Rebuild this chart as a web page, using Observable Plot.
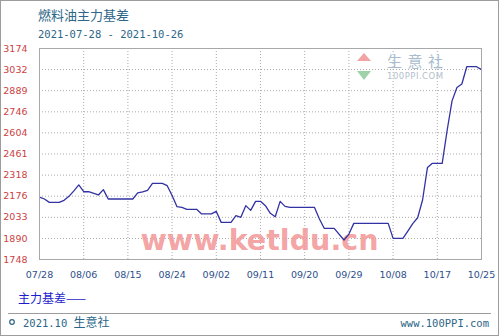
<!DOCTYPE html>
<html><head><meta charset="utf-8">
<script src="https://cdn.jsdelivr.net/npm/d3@7"></script>
<script src="https://cdn.jsdelivr.net/npm/@observablehq/plot@0.6"></script>
<style>
html,body{margin:0;padding:0;background:#fff;}
#chart{position:relative;width:499px;height:336px;}
#chart svg{display:block;}
</style></head><body><div id="chart"></div>
<script>
// ---- data ----
const dates = ["2021-07-28","2021-07-29","2021-07-30","2021-08-01","2021-08-02","2021-08-03","2021-08-04","2021-08-05","2021-08-06","2021-08-07","2021-08-09","2021-08-10","2021-08-11","2021-08-16","2021-08-17","2021-08-18","2021-08-19","2021-08-20","2021-08-22","2021-08-23","2021-08-24","2021-08-25","2021-08-26","2021-08-27","2021-08-29","2021-08-30","2021-09-01","2021-09-02","2021-09-03","2021-09-05","2021-09-06","2021-09-07","2021-09-08","2021-09-09","2021-09-10","2021-09-11","2021-09-12","2021-09-13","2021-09-14","2021-09-15","2021-09-16","2021-09-17","2021-09-22","2021-09-23","2021-09-24","2021-09-26","2021-09-28","2021-09-29","2021-09-30","2021-10-07","2021-10-08","2021-10-10","2021-10-11","2021-10-12","2021-10-13","2021-10-14","2021-10-15","2021-10-16","2021-10-18","2021-10-19","2021-10-20","2021-10-21","2021-10-22","2021-10-23","2021-10-25","2021-10-26"];
const values = [2170,2157,2134,2134,2148,2175,2212,2252,2206,2206,2184,2220,2157,2157,2198,2205,2215,2262,2262,2247,2180,2105,2100,2087,2087,2056,2056,2073,1999,1999,2044,2033,2112,2080,2141,2141,2112,2060,2037,2141,2107,2100,2100,2022,1958,1958,1880,1920,1992,1992,1891,1891,1940,1990,2030,2150,2370,2398,2398,2620,2820,2911,2934,3051,3051,3031];
const yTicks = [1748,1890,2033,2176,2318,2461,2604,2746,2889,3032,3174];
const xTickDates = ["2021-07-28","2021-08-06","2021-08-15","2021-08-24","2021-09-02","2021-09-11","2021-09-20","2021-09-29","2021-10-08","2021-10-17","2021-10-26"];
const xTickLabels = ["07/28","08/06","08/15","08/24","09/02","09/11","09/20","09/29","10/08","10/17","10/25"];
const title = "燃料油主力基差";
const subtitle = "2021-07-28 - 2021-10-26";
const seriesName = "主力基差";
const watermark = "www.ketldu.cn";
const footerLeft = "2021.10";
const footerBrand = "生意社";
const footerRight = "www.100PPI.com";
const logoName = "生 意 社";
const logoSite = "100PPI.COM";

// ---- chart ----
const toDate = s => new Date(s + "T00:00:00Z");
const data = dates.map((d, i) => ({date: toDate(d), value: values[i]}));
const xt = xTickDates.map(toDate);
const labelMap = new Map(xt.map((d, i) => [+d, xTickLabels[i]]));

const plot = Plot.plot({
  width: 499, height: 336,
  marginLeft: 39, marginRight: 18, marginTop: 48, marginBottom: 77,
  style: {background: "transparent", fontFamily: "'DejaVu Sans', sans-serif", fontSize: "9.5px", overflow: "visible"},
  x: {type: "utc", domain: [xt[0], xt[xt.length - 1]]},
  y: {domain: [yTicks[0], yTicks[yTicks.length - 1]]},
  marks: [
    Plot.gridX(xt, {stroke: "#ababab", strokeOpacity: 1, strokeDasharray: "1,2"}),
    Plot.gridY(yTicks, {stroke: "#ababab", strokeOpacity: 1, strokeDasharray: "1,2"}),
    Plot.text([watermark], {frameAnchor: "bottom", lineAnchor: "bottom", dx: -1, dy: -10,
      fontSize: 28, fontWeight: "bold", fill: "#f39a9a", fillOpacity: 0.9, className: "wm"}),
    Plot.line(data, {x: "date", y: "value", stroke: "#3232a4", strokeWidth: 1.3}),
    Plot.frame({stroke: "#a8a8a8"}),
    Plot.axisX(xt, {tickSize: 0, tickPadding: 12, tickFormat: d => labelMap.get(+d), label: null, color: "#2d4f8c"}),
    Plot.axisY(yTicks, {tickSize: 0, tickPadding: 12, tickFormat: d => String(d), label: null, color: "#cc3f3f"})
  ]
});
document.getElementById("chart").appendChild(plot);

const svg = d3.select(plot);
svg.select(".wm text").attr("textLength", 238).attr("lengthAdjust", "spacingAndGlyphs")
  .style("font-family", "'DejaVu Sans', sans-serif");

// decorations
svg.insert("rect", ":first-child").attr("x", 0.5).attr("y", 0.5).attr("width", 498).attr("height", 335)
  .attr("fill", "#fff").attr("stroke", "#9c9c9c");

const cjk = "'Noto Sans CJK SC', sans-serif";
const mono = "'DejaVu Sans Mono', monospace";
const deco = svg.append("g").attr("text-anchor", "start");
deco.append("text").attr("x", 38).attr("y", 19.5).text(title)
  .style("font-family", cjk).style("font-size", "13px").attr("fill", "#2c6688");
deco.append("text").attr("x", 38).attr("y", 37.5).text(subtitle)
  .style("font-family", mono).style("font-size", "10.5px").attr("fill", "#2c6688");

// logo watermark
const logo = svg.insert("g", ".wm").attr("text-anchor", "start");
logo.append("path").attr("d", "M357,61 L364,53 L371,61 Z").attr("fill", "#f2a3a3");
logo.append("path").attr("d", "M357,71 L371,71 L364,80 Z").attr("fill", "#9ed3a8");
logo.append("text").attr("x", 387).attr("y", 67).text(logoName).attr("textLength", 56)
  .style("font-family", cjk).style("font-size", "15px").attr("fill", "#a9bccd");
logo.append("text").attr("x", 387).attr("y", 79).text(logoSite).attr("textLength", 56)
  .style("font-family", "'DejaVu Sans', sans-serif").style("font-size", "8.5px").attr("fill", "#b3c0cc");

// legend
deco.append("text").attr("x", 18).attr("y", 303).text(seriesName + "——")
  .style("font-family", cjk).style("font-size", "12px").attr("fill", "#1c1ccc");

// footer
deco.append("line").attr("x1", 8).attr("x2", 491).attr("y1", 313.5).attr("y2", 313.5).attr("stroke", "#9c9c9c");
deco.append("circle").attr("cx", 12).attr("cy", 322).attr("r", 2.3).attr("fill", "none").attr("stroke", "#2c6688").attr("stroke-width", 1.2);
const fl = deco.append("text").attr("x", 23).attr("y", 326.5).attr("fill", "#2c6688");
fl.append("tspan").text(footerLeft + " ").style("font-family", mono).style("font-size", "10.5px");
fl.append("tspan").text(footerBrand).style("font-family", cjk).style("font-size", "12px");
deco.append("text").attr("x", 489).attr("y", 326.5).attr("text-anchor", "end").text(footerRight)
  .style("font-family", mono).style("font-size", "10.5px").attr("fill", "#2c6688");
</script></body></html>
